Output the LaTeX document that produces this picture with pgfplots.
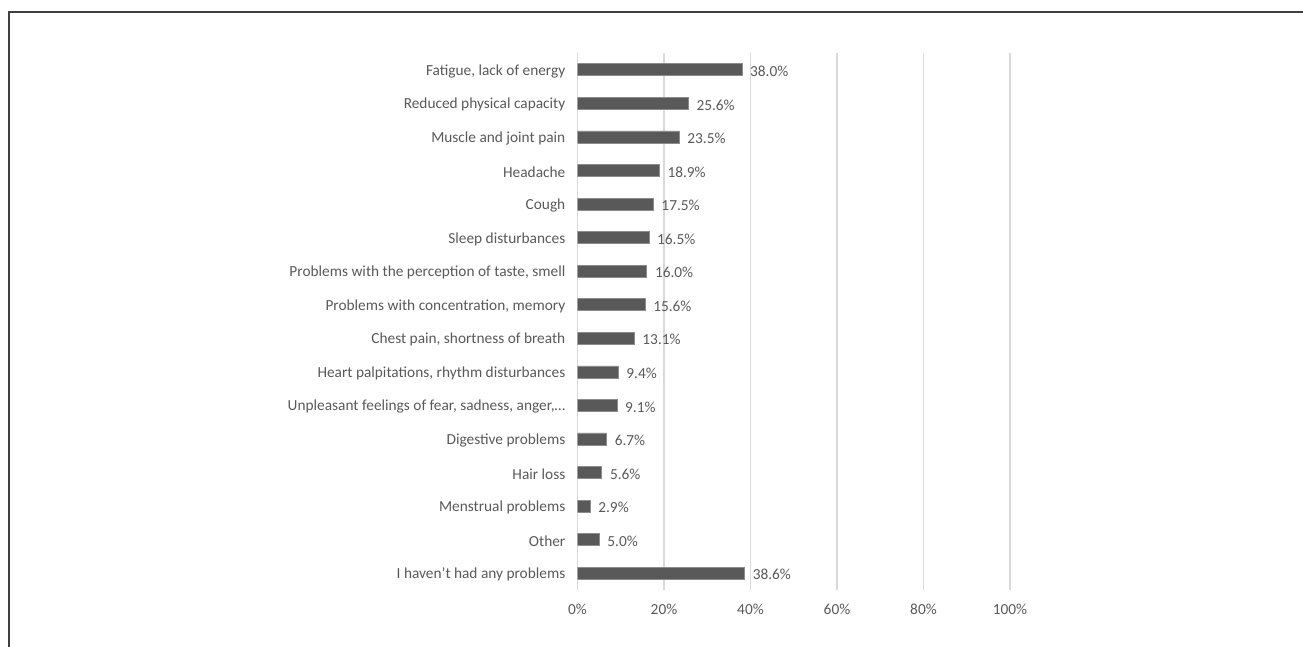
\documentclass[border=0pt]{standalone}
\usepackage{pgfplots}
\pgfplotsset{compat=1.18}
\usepackage{fontspec}
\setmainfont{Carlito}
\definecolor{txt}{HTML}{595959}
\definecolor{barc}{HTML}{595959}
\definecolor{grd}{HTML}{D9D9D9}
\begin{document}
\begin{tikzpicture}
\path[use as bounding box] (0bp,0bp) rectangle (1303bp,647bp);
\draw[line width=1.5bp, color=black!75] (9bp,0bp) -- (9bp,635bp) -- (1303bp,635bp);
\begin{axis}[
  at={(577.5bp,57bp)}, anchor=south west,
  scale only axis, width=432.5bp, height=537bp,
  xmin=0, xmax=100, ymin=-0.5, ymax=15.5,
  y dir=reverse,
  axis line style={draw=none},
  tick style={draw=none},
  major tick length=0pt,
  xtick={0,20,40,60,80,100},
  xticklabels={0\%,20\%,40\%,60\%,80\%,100\%},
  ytick={0,...,15},
  yticklabels={{Fatigue, lack of energy},{Reduced physical capacity},{Muscle and joint pain},{Headache},{Cough},{Sleep disturbances},{Problems with the perception of taste, smell},{Problems with concentration, memory},{Chest pain, shortness of breath},{Heart palpitations, rhythm disturbances},{Unpleasant feelings of fear, sadness, anger,\dots},{Digestive problems},{Hair loss},{Menstrual problems},{Other},{I haven’t had any problems}},
  xmajorgrids,
  grid style={draw=grd, line width=1.2bp},
  tick label style={font=\fontsize{15.4}{18}\selectfont, text=txt, inner sep=0pt},
  xticklabel style={anchor=north, yshift=-14bp},
  yticklabel style={anchor=east, xshift=-12bp, yshift=-1.5bp},
  /pgf/number format/assume math mode=true,
  xbar, bar width=12bp,
  nodes near coords={\pgfmathprintnumber[fixed,fixed zerofill,precision=1]{\pgfplotspointmeta}\%},
  nodes near coords style={font=\fontsize{15.4}{18}\selectfont, text=txt, anchor=west, inner sep=0pt, xshift=8bp, yshift=-1.5bp},
]
\addplot[fill=barc, draw=black!45, line width=0.6bp] coordinates {
(38.0,0) (25.6,1) (23.5,2) (18.9,3) (17.5,4) (16.5,5) (16.0,6) (15.6,7)
(13.1,8) (9.4,9) (9.1,10) (6.7,11) (5.6,12) (2.9,13) (5.0,14) (38.6,15)};
\end{axis}
\end{tikzpicture}
\end{document}
